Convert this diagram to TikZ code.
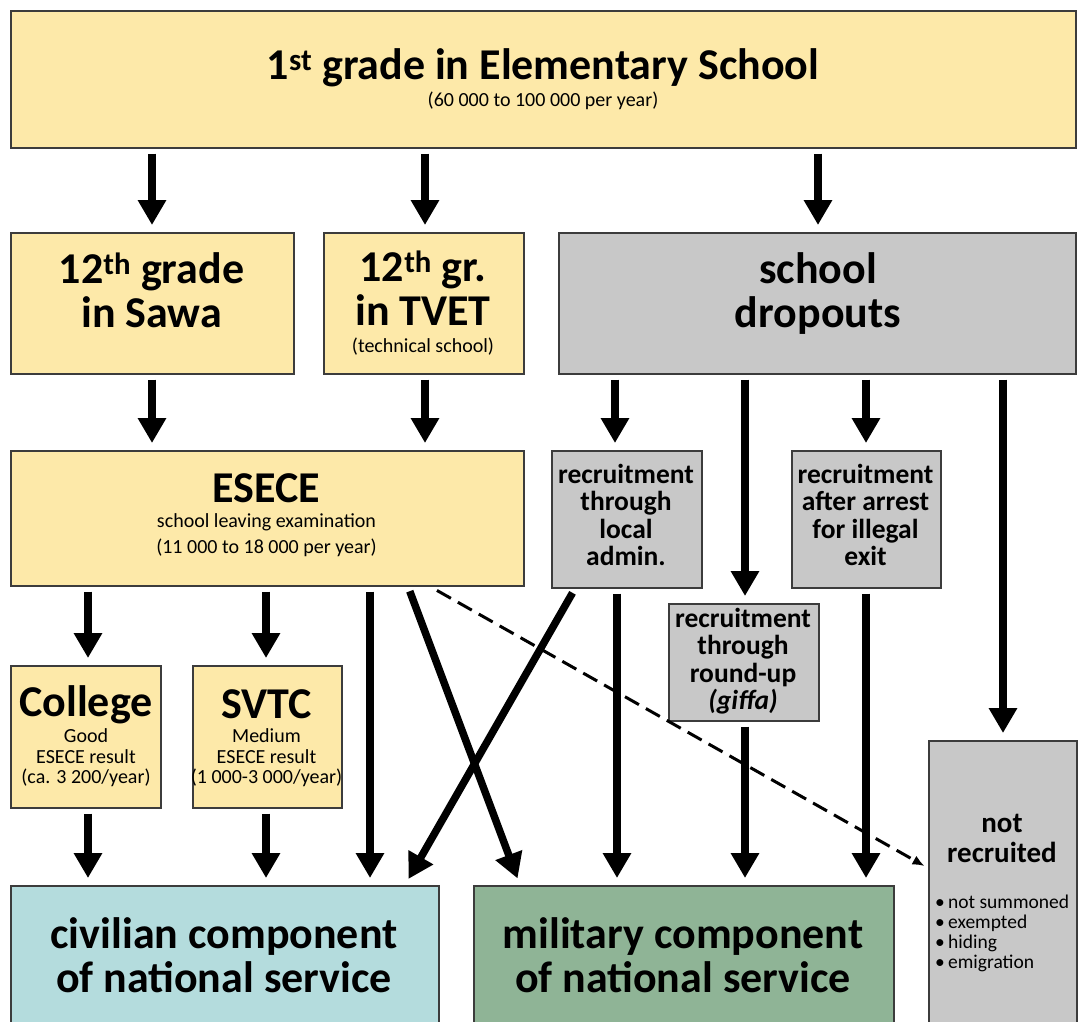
\documentclass[tikz,border=0pt]{standalone}
\usepackage{fontspec}
\setmainfont{Carlito}
\usetikzlibrary{arrows.meta}
\definecolor{ylw}{HTML}{FDE9A9}
\definecolor{gry}{HTML}{C8C8C8}
\definecolor{civc}{HTML}{B4DCDD}
\definecolor{milc}{HTML}{8FB496}
\definecolor{bdr}{HTML}{3C3C3C}
\begin{document}
\begin{tikzpicture}[x=1pt,y=-1pt,
  box/.style={draw=bdr,line width=1.5pt,inner sep=0pt,anchor=north west},
  ybox/.style={box,fill=ylw},
  gbox/.style={box,fill=gry},
  txt/.style={inner sep=0pt,align=center},
  big/.style={txt,font=\fontsize{44}{44}\selectfont\bfseries},
  mid/.style={txt,font=\fontsize{27.5}{27.5}\selectfont\bfseries},
  small/.style={txt,font=\fontsize{20}{26}\selectfont},
  tiny/.style={txt,font=\fontsize{20}{20.5}\selectfont},
  arr/.style={line width=7.5pt,-{Triangle[width=27pt,length=25pt]},shorten <=5pt,shorten >=7pt},
  dsh/.style={line width=3pt,dash pattern=on 16pt off 8pt,-{Latex[length=12pt,width=10pt]},shorten <=8pt,shorten >=4pt}]
\clip (0,0) rectangle (1078,1021);
\fill[white] (0,0) rectangle (1078,1021);
% boxes
\node[ybox,minimum width=1065pt,minimum height=137pt] (top) at (10,10) {};
\node[ybox,minimum width=283pt,minimum height=141pt] (sawa) at (10,232) {};
\node[ybox,minimum width=200pt,minimum height=141pt] (tvet) at (323,232) {};
\node[gbox,minimum width=517pt,minimum height=141pt] (drop) at (558,232) {};
\node[ybox,minimum width=513pt,minimum height=135pt] (esece) at (10,450) {};
\node[gbox,minimum width=150pt,minimum height=137pt] (local) at (551,450) {};
\node[gbox,minimum width=149pt,minimum height=137pt] (illegal) at (791,450) {};
\node[gbox,minimum width=150pt,minimum height=117pt] (giffa) at (668,603) {};
\node[ybox,minimum width=150pt,minimum height=142pt] (college) at (10,665) {};
\node[ybox,minimum width=149pt,minimum height=142pt] (svtc) at (192,665) {};
\node[box,fill=civc,minimum width=428pt,minimum height=150pt] (civil) at (10,885) {};
\node[box,fill=milc,minimum width=420pt,minimum height=150pt] (mil) at (473,885) {};
\node[gbox,minimum width=148pt,minimum height=300pt] (notrec) at (928,740) {};
% texts
\node[big] (topT) at (543,68) {1\textsuperscript{st} grade in Elementary School};
\node[txt,font=\fontsize{20}{22}\selectfont] (topS) at (543,101) {(60 000 to 100 000 per year)};
\node[big] (sawaT) at (151.5,290) {12\textsuperscript{th} grade\\in Sawa};
\node[big] (tvetT) at (423,288) {12\textsuperscript{th} gr.\\in TVET};
\node[txt,font=\fontsize{20}{22}\selectfont] (tvetS) at (423,347) {(technical school)};
\node[big] (dropT) at (818,294) {school\\dropouts};
\node[big] (eseceT) at (266.5,488) {ESECE};
\node[small] (eseceS) at (266.5,535) {school leaving examination\\(11 000 to 18 000 per year)};
\node[mid] (localT) at (626,515) {recruitment\\through\\local\\admin.};
\node[mid] (illegalT) at (865.5,515) {recruitment\\after arrest\\for illegal\\exit};
\node[mid] (giffaT) at (743,661) {recruitment\\through\\round-up\\\textit{(giffa)}};
\node[big] (collegeT) at (86,705) {College};
\node[tiny] (collegeS) at (86,758) {Good\\ESECE result\\(ca. 3 200/year)};
\node[big] (svtcT) at (266.5,704) {SVTC};
\node[tiny] (svtcS) at (266.5,758) {Medium\\ESECE result\\(1 000-3 000/year)};
\node[big] (civilT) at (224,955) {civilian component\\of national service};
\node[big] (milT) at (683,955) {military component\\of national service};
\node[txt,font=\fontsize{29}{30}\selectfont\bfseries] (notrecT) at (1002,838) {not\\recruited};
\node[txt,align=left,anchor=west,font=\fontsize{19.5}{20}\selectfont] (notrecL) at (935,933) {•\,not summoned\\•\,exempted\\•\,hiding\\•\,emigration};
% arrows
\draw[arr] ([xshift=142pt]top.south west) -- ([xshift=142pt]sawa.north west);
\draw[arr] ([xshift=415pt]top.south west) -- ([xshift=102pt]tvet.north west);
\draw[arr] ([xshift=808pt]top.south west) -- ([xshift=260pt]drop.north west);
\draw[arr] ([xshift=142pt]sawa.south west) -- ([xshift=142pt]esece.north west);
\draw[arr] ([xshift=102pt]tvet.south west) -- ([xshift=415pt]esece.north west);
\draw[arr] ([xshift=57pt]drop.south west) -- ([xshift=64pt]local.north west);
\draw[arr] ([xshift=187pt]drop.south west) -- ([xshift=77pt]giffa.north west);
\draw[arr] ([xshift=308pt]drop.south west) -- ([xshift=75pt]illegal.north west);
\draw[arr] ([xshift=445pt]drop.south west) -- ([xshift=75pt]notrec.north west);
\draw[arr] ([xshift=78pt]esece.south west) -- ([xshift=78pt]college.north west);
\draw[arr] ([xshift=256pt]esece.south west) -- ([xshift=74pt]svtc.north west);
\draw[arr] ([xshift=360pt]esece.south west) -- ([xshift=360pt]civil.north west);
\draw[arr] ([xshift=398pt]esece.south west) -- ([xshift=47pt]mil.north west);
\draw[arr] ([xshift=24pt]local.south west) -- ([xshift=395pt]civil.north west);
\draw[arr] ([xshift=66pt]local.south west) -- ([xshift=144pt]mil.north west);
\draw[arr] ([xshift=77pt]giffa.south west) -- ([xshift=272pt]mil.north west);
\draw[arr] ([xshift=75pt]illegal.south west) -- ([xshift=393pt]mil.north west);
\draw[arr] ([xshift=78pt]college.south west) -- ([xshift=78pt]civil.north west);
\draw[arr] ([xshift=74pt]svtc.south west) -- ([xshift=256pt]civil.north west);
\draw[dsh] ([xshift=420pt]esece.south west) -- ([yshift=-128pt]notrec.north west);
\end{tikzpicture}
\end{document}
